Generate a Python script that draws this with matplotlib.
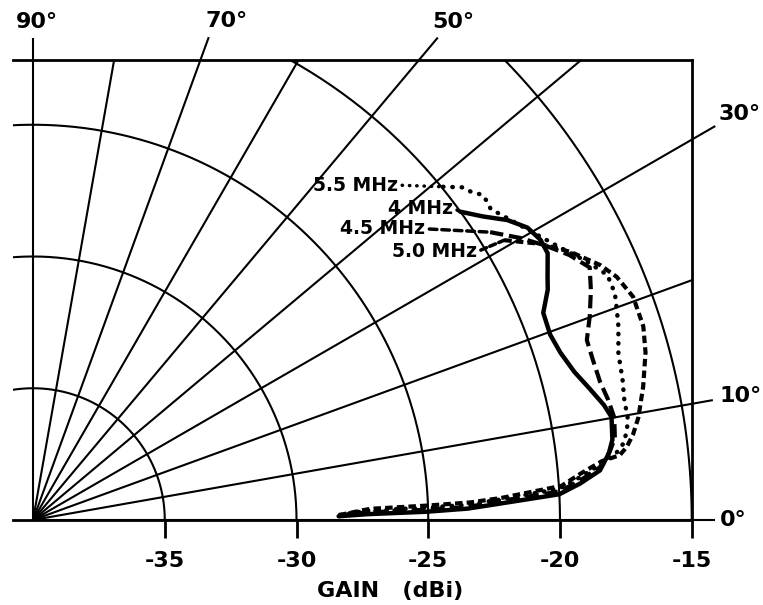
import numpy as np
import matplotlib.pyplot as plt

plt.rcParams['font.family'] = ['DejaVu Sans']
plt.rcParams['font.weight'] = 'bold'

# centre of the polar grid sits at -40 dBi
floor_db = -40
gain_rings = [-35, -30, -25, -20, -15]
tick_labels = ['-35', '-30', '-25', '-20', '-15']
spoke_angles = [0, 10, 20, 30, 40, 50, 60, 70, 80, 90]
label_angles = [90, 70, 50, 30, 10, 0]
angle_labels = ['90°', '70°', '50°', '30°', '10°', '0°']

# elevation angle (deg) / gain (dBi)
ang_4 = [35.8, 34.0, 32.3, 30.6, 28.9, 27.4, 25.3, 24.1, 22.1, 19.7, 17.6, 15.3,
         13.3, 11.4, 10.1, 7.9, 6.6, 5.0, 3.8, 2.8, 2.0, 1.5, 1.2, 1.0, 0.7]
gain_4 = [-20.0, -19.4, -18.7, -18.2, -18.0, -18.0, -18.4, -18.6, -19.1, -19.15, -19.0, -18.7,
          -18.3, -17.9, -17.7, -17.8, -18.0, -18.4, -19.2, -20.0, -22.3, -23.5, -25.1, -27.3, -28.4]

ang_45 = [32.2, 30.1, 28.2, 26.3, 24.4, 22.4, 20.1, 18.0, 16.0, 13.7, 11.8, 10.0,
          8.0, 6.8, 5.3, 4.1, 3.1, 2.3, 1.7, 1.5, 1.3, 0.85]
gain_45 = [-19.5, -18.65, -17.95, -17.3, -16.8, -17.1, -17.5, -17.9, -17.9, -17.85, -17.7, -17.6,
           -17.7, -17.95, -18.4, -19.2, -20.0, -22.3, -23.5, -25.1, -27.3, -28.4]

ang_50 = [30.7, 28.6, 26.5, 24.2, 22.6, 20.4, 17.6, 15.3, 12.3, 9.6, 8.1, 7.0,
          6.3, 5.9, 4.9, 3.7, 2.7, 2.3, 2.1, 1.9, 1.0]
gain_50 = [-19.2, -18.1, -17.2, -16.4, -16.0, -15.7, -15.7, -15.9, -16.3, -16.7, -17.0, -17.3,
           -17.6, -18.3, -19.1, -19.9, -22.2, -23.4, -25.0, -27.2, -28.3]

ang_55 = [39.1, 37.8, 36.7, 35.9, 35.0, 34.2, 31.2, 27.4, 25.0, 23.1, 21.3, 19.8,
          18.3, 15.9, 13.4, 11.5, 9.8, 8.6, 7.4, 6.6, 5.6, 4.5, 3.4, 2.5, 2.0, 1.8, 1.6, 0.95]
gain_55 = [-19.95, -19.4, -19.2, -18.95, -18.95, -19.0, -18.4, -17.5, -16.8, -16.3, -16.3, -16.45,
           -16.6, -16.9, -17.0, -17.1, -17.1, -17.2, -17.4, -17.7, -18.35, -19.15, -20.0, -22.3, -23.5, -25.1, -27.3, -28.4]


def to_xy(ang, gain):
    a = np.radians(np.asarray(ang, dtype=float))
    r = np.asarray(gain, dtype=float) - floor_db
    return r * np.cos(a), r * np.sin(a)


fig = plt.figure(figsize=(7.63, 6.05), dpi=100)
ax = fig.add_axes([13 / 763, 1 - 520 / 605, 679 / 763, 460 / 605])
ax.set_xlim(-0.76, 25.01)
ax.set_ylim(0, 17.457)

# frame: no left side
ax.spines['left'].set_visible(False)
for s in ['top', 'right', 'bottom']:
    ax.spines[s].set_linewidth(2)
ax.set_yticks([])

# gain rings
t = np.linspace(0, np.pi, 400)
for g in gain_rings:
    r = g - floor_db
    ax.plot(r * np.cos(t), r * np.sin(t), color='black', lw=1.5)

# spokes, the labelled ones run past the frame
spoke_len = {90: 18.3, 70: 19.5, 50: 23.9, 30: 29.9, 10: 26.2, 0: 25.9}
for a in spoke_angles:
    L = spoke_len.get(a, 32)
    x, y = to_xy([0, a], [floor_db, floor_db + L])
    x = [0, x[1]]
    y = [0, y[1]]
    ax.plot(x, y, color='black', lw=1.5, clip_on=(a not in spoke_len), solid_capstyle='butt')

offsets = {90: (3, 11.5, 'center'), 70: (13, 11.5, 'center'), 50: (11.5, 11.5, 'center'),
           30: (2, 8.5, 'left'), 10: (5, 3, 'left'), 0: (3.5, 0, 'left')}
for a, lab in zip(label_angles, angle_labels):
    L = spoke_len[a]
    x, y = to_xy([a], [floor_db + L])
    dx, dy, ha = offsets[a]
    ax.annotate(lab, xy=(x[0], y[0]), xytext=(dx, dy), textcoords='offset points',
                ha=ha, va='center', fontsize=16, fontweight='bold', annotation_clip=False)

# gain ticks
ax.set_xticks([g - floor_db for g in gain_rings])
ax.set_xticklabels(tick_labels, fontsize=16, fontweight='bold')
ax.tick_params(axis='x', direction='out', length=13, width=2, pad=9)
ax.text((390 - 13) / 679, -(591 - 520) / 460, 'GAIN   (dBi)', transform=ax.transAxes,
        ha='center', va='center', fontsize=16, fontweight='bold')

# the four patterns
x, y = to_xy(ang_4, gain_4)
ax.plot(x, y, color='black', lw=3.2, solid_capstyle='round')
x, y = to_xy(ang_45, gain_45)
ax.plot(x, y, color='black', lw=3, linestyle=(0, (3.2, 1.4)))
x, y = to_xy(ang_50, gain_50)
ax.plot(x, y, color='black', lw=3, linestyle=(0, (1.8, 1.0)))
x, y = to_xy(ang_55, gain_55)
ax.plot(x, y, color='black', lw=3.2, linestyle=(0, (0.1, 2.0)), dash_capstyle='round')

# labels with leaders to the start of each curve
labels = [('5.5 MHz', ang_55, gain_55, (0.567, 0.728), (0, (0.1, 2.0))),
          ('4 MHz', ang_4, gain_4, (0.648, 0.678), '-'),
          ('4.5 MHz', ang_45, gain_45, (0.607, 0.633), (0, (2.2, 1.4))),
          ('5.0 MHz', ang_50, gain_50, (0.683, 0.583), (0, (1.8, 1.0)))]
for txt, a, g, pos, ls in labels:
    x, y = to_xy(a[:1], g[:1])
    ax.annotate(txt, xy=(x[0], y[0]), xytext=pos, textcoords='axes fraction',
                ha='right', va='center', fontsize=13.5, fontweight='bold',
                arrowprops=dict(arrowstyle='-', relpos=(1, 0.5), shrinkA=1, shrinkB=0,
                                lw=2.5, linestyle=ls, capstyle='round', color='black'))

plt.savefig('out.png', dpi=100)
